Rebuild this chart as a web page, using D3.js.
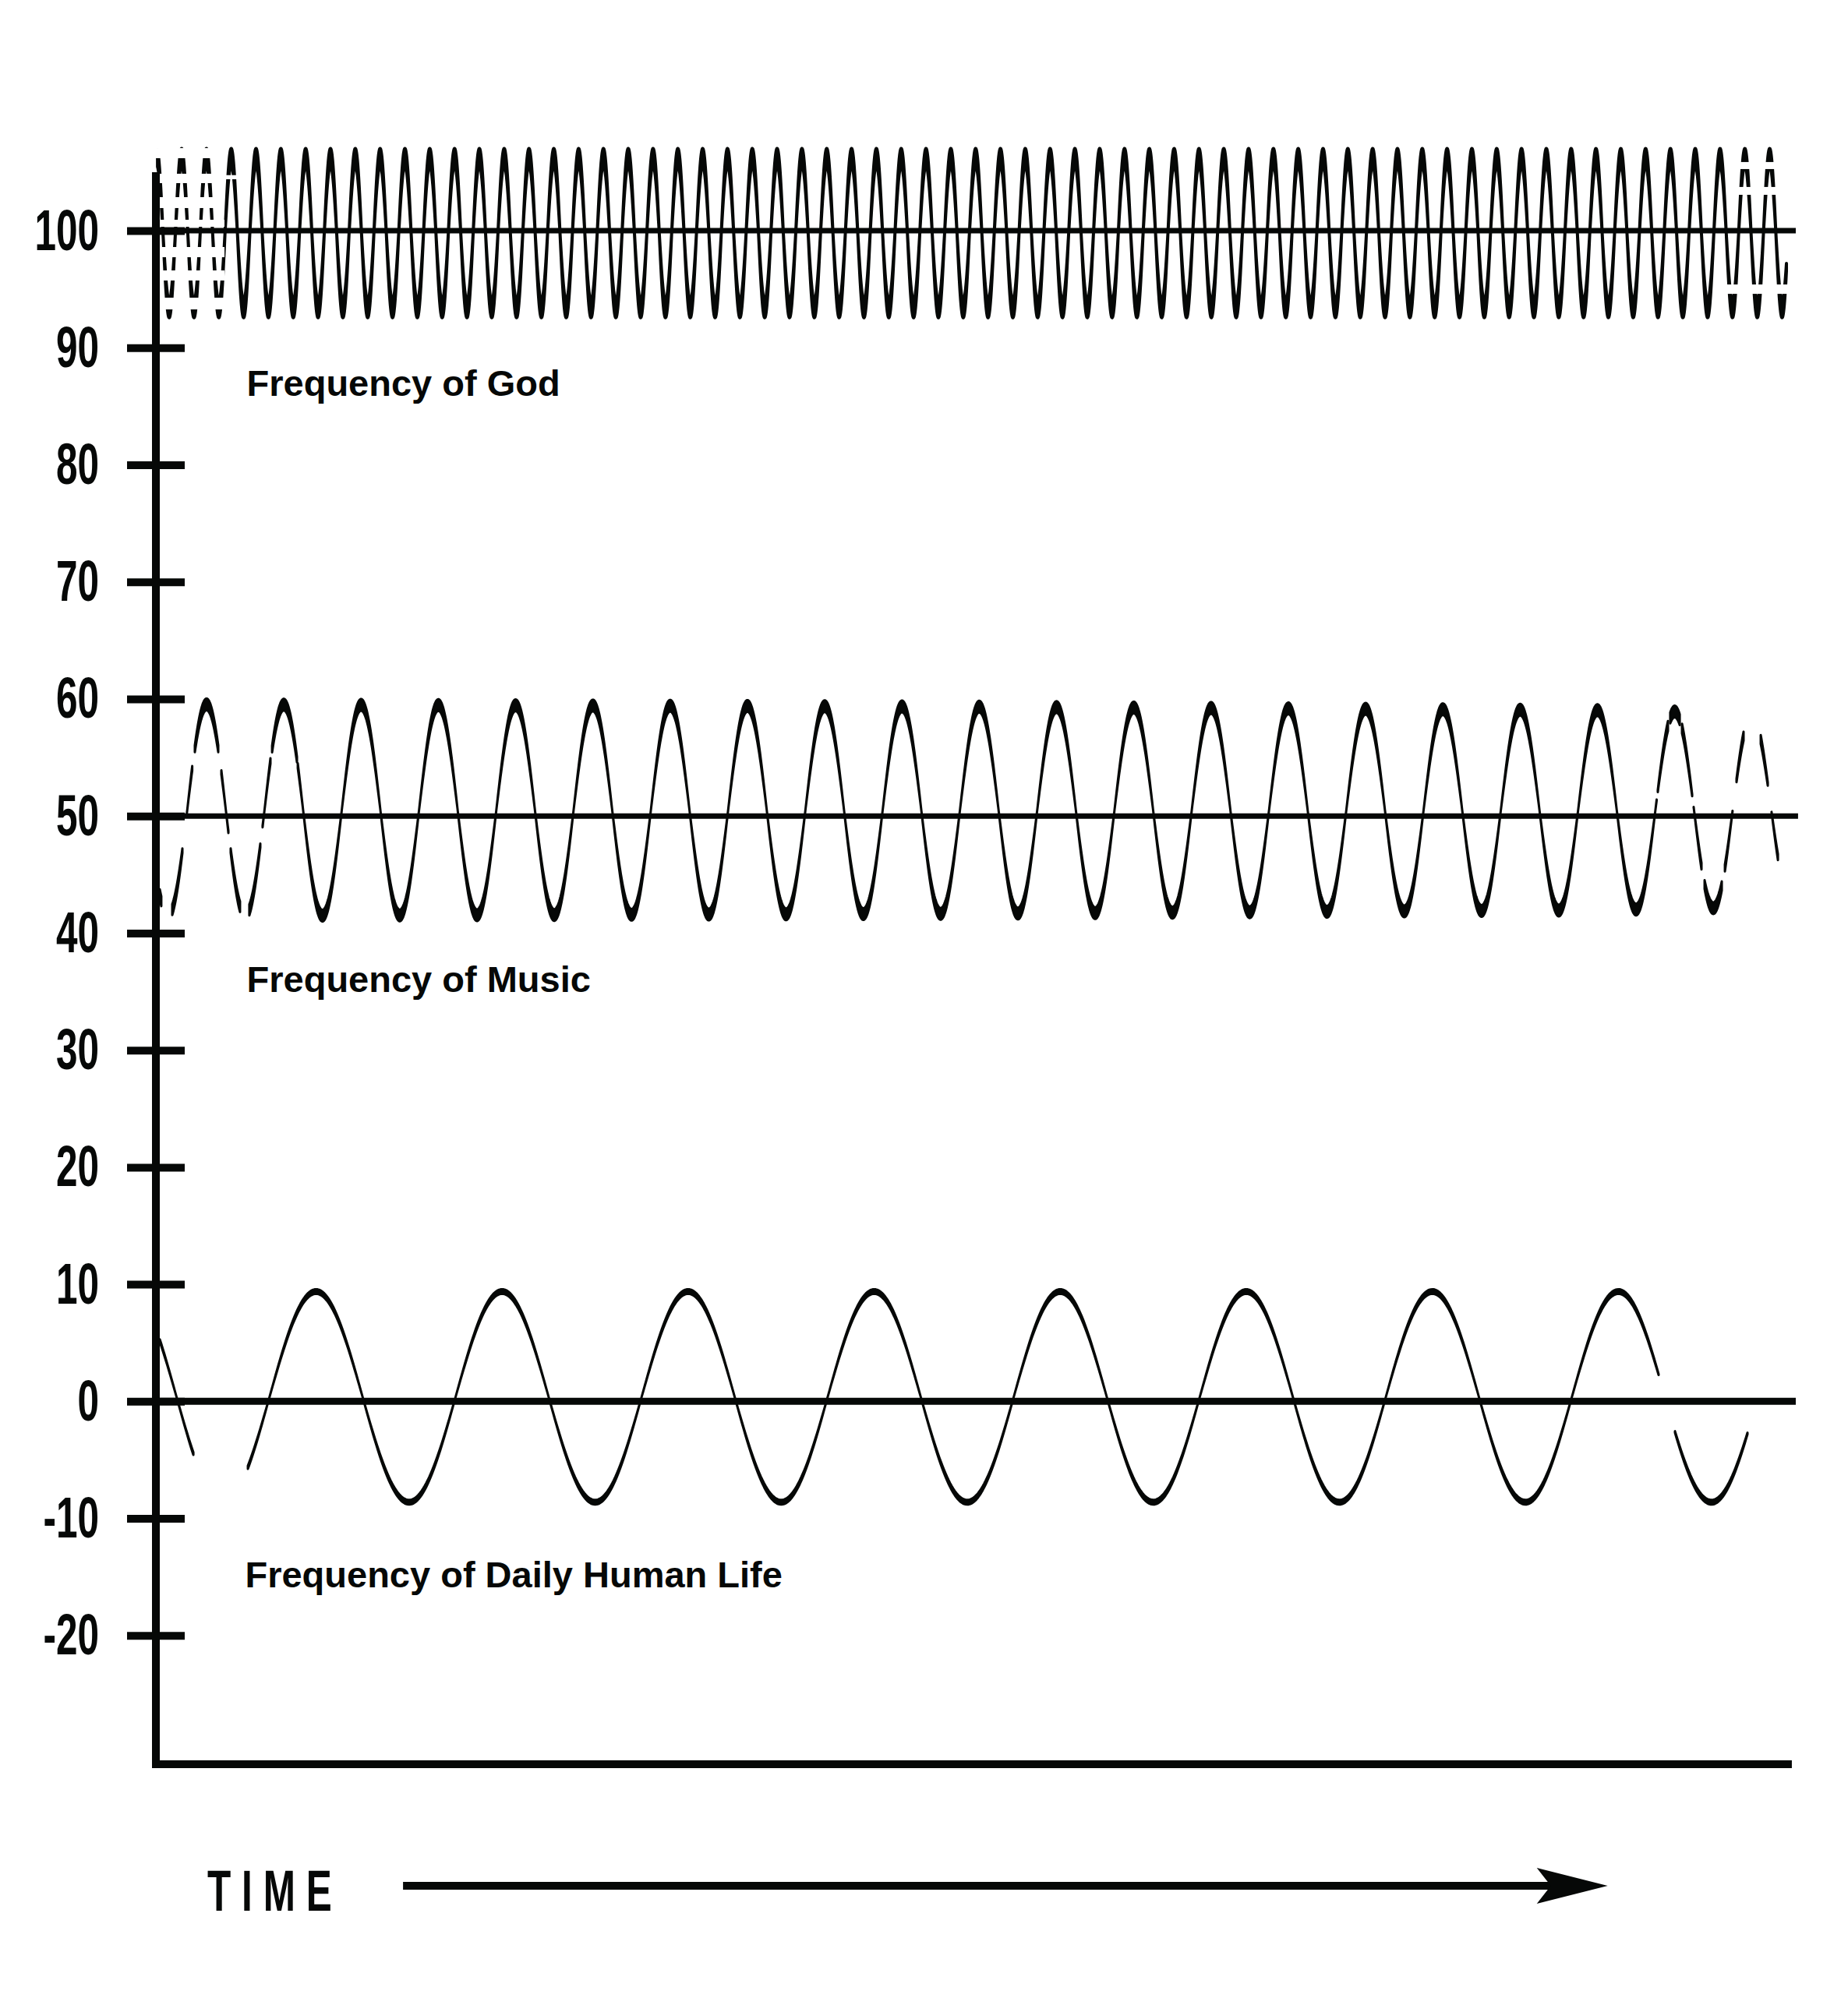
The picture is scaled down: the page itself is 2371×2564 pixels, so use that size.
<!DOCTYPE html>
<html><head><meta charset="utf-8">
<script src="https://cdn.jsdelivr.net/npm/d3@7"></script>
<style>html,body{margin:0;padding:0;background:#fff;} svg{display:block;}</style>
</head><body>
<svg id="chart" width="2371" height="2564"></svg>
<script>
// ---------- data ----------
const tickValues = [100, 90, 80, 70, 60, 50, 40, 30, 20, 10, 0, -10, -20];
const referenceLevels = [100, 50, 0];
const waveNames = ["Frequency of God", "Frequency of Music", "Frequency of Daily Human Life"];
const waveCenters = [99.8, 50.5, 0.38];
const wavePeriods = [1.516, 4.721, 11.367];        // time units per cycle
const waveFirstPeaks = [1.571, 3.095, 9.786];      // time of first crest
const waveLabelLevels = [85.9, 35.0, -15.9];
const waveLabelTimes = [5.55, 5.55, 5.45];
// amplitude read along time: [time, amplitude]
const godAmplitude = [[0, 7.23], [100, 7.23]];
const musicAmplitude = [[0, 9.55], [50, 9.35], [88, 9.05], [96, 8.85], [99, 8.3]];
const lifeAmplitude = [[0, 9.2], [100, 9.2]];
// visible stretches of each wave along time [start, end]
const godPieces = [[0.1, 99.62]];
const musicPieces = [[0.24, 0.33], [1.0, 1.62], [1.87, 2.22], [2.38, 3.81], [4.0, 4.43], [4.57, 5.14],
  [5.71, 6.38], [6.52, 7.0], [7.1, 8.62], [8.67, 91.69], [91.76, 92.38], [92.52, 93.1], [93.24, 93.86],
  [93.95, 94.43], [94.62, 95.67], [95.86, 96.33], [96.57, 97.0], [98.05, 98.48], [98.71, 99.1]];
const lifePieces = [[0.24, 2.29], [5.62, 91.81], [92.81, 97.24]];
// erased bands of the God wave at both ends: [t0, t1, v0, v1]
const godGaps = [
  [0, 4.19, 106.20, 107.06], [0, 4.19, 104.07, 104.87], [0, 4.19, 101.94, 102.87], [0, 4.19, 100.34, 100.94],
  [0, 4.19, 97.74, 98.61], [0, 4.19, 95.75, 96.61], [0, 4.19, 93.28, 94.28],
  [4.19, 5.0, 104.4, 104.75],
  [95.95, 99.8, 105.27, 105.87], [95.95, 99.8, 103.07, 103.74], [95.95, 99.8, 94.61, 95.41]
];
const timeArrow = [15.1, 88.7];
const axisLabel = "TIME";

// ---------- scales ----------
const svg = d3.select("#chart");
const x = d3.scaleLinear().domain([0, 100]).range([200, 2300]);
const y = d3.scaleLinear().domain([-31, 105]).range([2264, 221]);
const pxPerUnit = Math.abs(y(1) - y(0));

const defs = svg.append("defs");

// ---------- axes ----------
// vertical axis line
svg.append("line").attr("x1", x(0)).attr("x2", x(0))
  .attr("y1", y(105)).attr("y2", y(-31) + 5)
  .attr("stroke", "#060807").attr("stroke-width", 10);
// horizontal axis line
svg.append("line").attr("x1", x(0) - 5).attr("x2", x(99.95))
  .attr("y1", y(-31)).attr("y2", y(-31))
  .attr("stroke", "#060807").attr("stroke-width", 10);

const yAxis = d3.axisLeft(y).tickValues(tickValues).tickSize(37).tickFormat(d => String(d));
const gAxis = svg.append("g").attr("transform", `translate(${x(0)},0)`).call(yAxis);
gAxis.select(".domain").remove();
gAxis.selectAll(".tick line").attr("x1", 37).attr("stroke", "#060807").attr("stroke-width", 10);
gAxis.selectAll(".tick text")
  .attr("x", null).attr("dy", null)
  .attr("transform", "translate(-73,24) scale(0.66,1)")
  .attr("text-anchor", "end")
  .attr("font-family", "'Liberation Sans', Arial, Helvetica, sans-serif")
  .attr("font-weight", "bold")
  .attr("font-size", 75)
  .attr("fill", "#060807");
gAxis.attr("font-size", null).attr("font-family", null);

// reference lines
const refWidths = [7, 7, 9];
svg.selectAll("line.ref").data(referenceLevels).enter().append("line")
  .attr("class", "ref")
  .attr("x1", x(0)).attr("x2", (d, i) => x(i === 1 ? 100.33 : 100.19))
  .attr("y1", d => y(d)).attr("y2", d => y(d))
  .attr("stroke", "#060807").attr("stroke-width", (d, i) => refWidths[i]);

// ---------- waves ----------
const line = d3.line();
function ribbonPath(idx, ampKnots, t0, t1, dpx) {
  const amp = d3.scaleLinear().domain(ampKnots.map(k => k[0])).range(ampKnots.map(k => k[1])).clamp(true);
  const step = wavePeriods[idx] / 120;
  const n = Math.max(2, Math.ceil((t1 - t0) / step));
  const yc = y(waveCenters[idx]);
  const outer = [], inner = [];
  for (let i = 0; i <= n; i++) {
    const t = t0 + (t1 - t0) * i / n;
    const c = Math.cos(2 * Math.PI * (t - waveFirstPeaks[idx]) / wavePeriods[idx]);
    const A = amp(t) * pxPerUnit;
    outer.push([x(t), yc - A * c]);
    inner.push([x(t), yc - (A - dpx) * c]);
  }
  return line(outer.concat(inner.reverse())) + "Z";
}

// mask for God wave
const mask = defs.append("mask").attr("id", "godMask")
  .attr("maskUnits", "userSpaceOnUse").attr("x", 0).attr("y", 0).attr("width", 2371).attr("height", 2564);
mask.append("rect").attr("x", 0).attr("y", 0).attr("width", 2371).attr("height", 2564).attr("fill", "white");
mask.selectAll("rect.gap").data(godGaps).enter().append("rect").attr("class", "gap")
  .attr("x", d => x(d[0])).attr("width", d => x(d[1]) - x(d[0]))
  .attr("y", d => y(d[3])).attr("height", d => y(d[2]) - y(d[3]))
  .attr("fill", "black");

const waveSpecs = [
  { pieces: godPieces, amp: godAmplitude, d: 22, w: 4, mask: "url(#godMask)" },
  { pieces: musicPieces, amp: musicAmplitude, d: 15, w: 3, mask: null },
  { pieces: lifePieces, amp: lifeAmplitude, d: 6, w: 3, mask: null }
];
waveSpecs.forEach((spec, idx) => {
  const g = svg.append("g").attr("class", "wave");
  if (spec.mask) g.attr("mask", spec.mask);
  g.selectAll("path").data(spec.pieces).enter().append("path")
    .attr("d", p => ribbonPath(idx, spec.amp, p[0], p[1], spec.d))
    .attr("fill", "#060807").attr("stroke", "#060807")
    .attr("stroke-width", spec.w).attr("stroke-linejoin", "round");
});

// wave labels
svg.selectAll("text.wlabel").data(waveNames).enter().append("text")
  .attr("class", "wlabel")
  .attr("x", (d, i) => x(waveLabelTimes[i]))
  .attr("y", (d, i) => y(waveLabelLevels[i]))
  .attr("font-family", "'Liberation Sans', Arial, Helvetica, sans-serif")
  .attr("font-weight", "bold").attr("font-size", 47).attr("fill", "#060807")
  .text(d => d);

// ---------- TIME arrow ----------
const ay = 2420;
svg.append("line").attr("x1", x(timeArrow[0])).attr("x2", x(timeArrow[1]) - 70)
  .attr("y1", ay).attr("y2", ay).attr("stroke", "#060807").attr("stroke-width", 10);
const tipX = x(timeArrow[1]);
svg.append("polygon")
  .attr("points", [[tipX, ay], [tipX - 91, ay - 23], [tipX - 73, ay], [tipX - 91, ay + 23]].map(p => p.join(",")).join(" "))
  .attr("fill", "#060807");
svg.append("text")
  .attr("transform", `translate(266,${ay + 32}) scale(0.66,1)`)
  .attr("font-family", "'Liberation Sans', Arial, Helvetica, sans-serif")
  .attr("font-weight", "bold").attr("font-size", 75).attr("letter-spacing", 21)
  .attr("fill", "#060807")
  .text(axisLabel);
</script>
</body></html>
